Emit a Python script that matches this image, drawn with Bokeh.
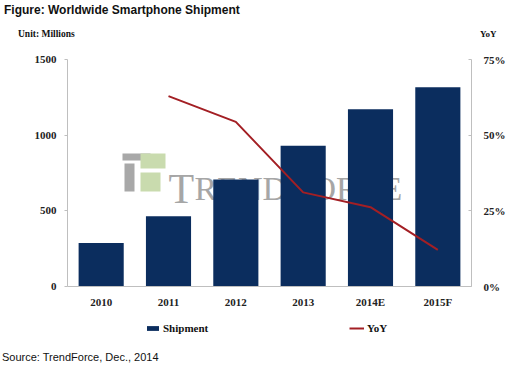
from bokeh.plotting import figure
from bokeh.layouts import column
from bokeh.models import (Range1d, FactorRange, LinearAxis, FixedTicker, PrintfTickFormatter,
                          Label, Legend, LegendItem, BoxAnnotation, ColumnDataSource, Div)
from bokeh.embed import file_html
from bokeh.resources import INLINE

years = ["2010", "2011", "2012", "2013", "2014E", "2015F"]
shipment = [288, 465, 707, 930, 1172, 1316]
yoy_years = ["2011", "2012", "2013", "2014E", "2015F"]
yoy = [62.9, 54.4, 31.1, 26.2, 12.1]
left_ticks = [0, 500, 1000, 1500]
right_ticks = [0, 25, 50, 75]

title_text = "Figure: Worldwide Smartphone Shipment"
left_unit = "Unit: Millions"
right_unit = "YoY"
source_text = "Source: TrendForce, Dec., 2014"

NAVY = "#0B2D5E"
RED = "#A31F24"
GRAY = "#BFBFBF"
SERIF = "Liberation Serif"
SANS = "Liberation Sans"
W = 511


def span(text, left, top, font, size, weight="normal"):
    return (f'<span style="position:absolute;left:{left}px;top:{top}px;white-space:nowrap;'
            f"font-family:'{font}';font-size:{size}px;font-weight:{weight};color:#111111;"
            f'line-height:normal">{text}</span>')


def strip(h, spans):
    html = (f'<div style="position:relative;width:{W}px;height:{h}px;margin:0;padding:0">'
            + "".join(spans) + "</div>")
    return Div(text=html, width=W, height=h, margin=0)


top = strip(51, [span(title_text, 4, 3, SANS, 12, "bold"),
                 span(left_unit, 18, 29, SERIF, 9.5, "bold"),
                 span(right_unit, 480, 29, SERIF, 9, "bold")])

# ---- main chart
p = figure(width=W, height=259, x_range=FactorRange(*years, range_padding=0),
           y_range=Range1d(0, 1500), output_backend="svg", toolbar_location=None,
           min_border_left=67, min_border_right=40, min_border_top=8, min_border_bottom=22)
p.extra_y_ranges = {"yoy": Range1d(0, 75)}
p.outline_line_color = None
p.xgrid.grid_line_color = None
p.ygrid.grid_line_color = None

src = ColumnDataSource(dict(x=years, y=shipment))
bars = p.vbar(x="x", top="y", width=0.67, source=src, fill_color=NAVY, line_color=None)
ysrc = ColumnDataSource(dict(x=yoy_years, y=yoy))
line = p.line(x="x", y="y", source=ysrc, y_range_name="yoy", line_color=RED, line_width=2)

xa = p.xaxis[0]
xa.axis_line_color = GRAY
xa.major_tick_line_color = None
xa.minor_tick_line_color = None
xa.major_label_standoff = 3

ya = p.yaxis[0]
ya.ticker = FixedTicker(ticks=left_ticks)
ya.major_tick_out = 3
ya.major_tick_in = 0
ya.major_label_standoff = 8

ra = LinearAxis(y_range_name="yoy", ticker=FixedTicker(ticks=right_ticks),
                formatter=PrintfTickFormatter(format="%d%%"))
ra.major_tick_in = 3
ra.major_tick_out = 0
ra.major_label_standoff = 12
p.add_layout(ra, "right")

for ax in (ya, ra):
    ax.axis_line_color = GRAY
    ax.major_tick_line_color = GRAY
    ax.minor_tick_line_color = None
for ax in (xa, ya, ra):
    ax.major_label_text_font = SERIF
    ax.major_label_text_font_style = "bold"
    ax.major_label_text_font_size = "11px"
    ax.major_label_text_color = "#222222"

# TrendForce watermark behind the bars (screen units from the frame's bottom-left)
for l, r, t, b, c in [(122, 150, 155, 162, "#A8A8A8"), (124, 134, 165, 193, "#A8A8A8"),
                      (140, 165, 155, 170, "#C9DBAE"), (140, 160, 174, 193, "#C9DBAE")]:
    p.add_layout(BoxAnnotation(left=l - 67, right=r - 67, top=288 - t, bottom=288 - b,
                               left_units="screen", right_units="screen",
                               top_units="screen", bottom_units="screen",
                               fill_color=c, fill_alpha=1, line_color=None, level="underlay"))
for txt, x, size in [("T", 168, "42px"), ("REND", 194, "34px"), ("F", 288, "42px"), ("ORCE", 311, "34px")]:
    p.add_layout(Label(x=x - 67, y=288 - 190, x_units="screen", y_units="screen", text=txt,
                       text_font=SERIF, text_font_size=size, text_color="#A6A6A6",
                       text_baseline="alphabetic", level="underlay"))

# ---- legend strip (proxy glyphs of zero size, so nothing is drawn in the strip)
leg = figure(width=W, height=35, x_range=Range1d(0, 1), y_range=Range1d(0, 1),
             output_backend="svg", toolbar_location=None, x_axis_type=None, y_axis_type=None,
             min_border_left=67, min_border_right=40, min_border_top=0, min_border_bottom=0)
leg.outline_line_color = None
leg.grid.visible = False
kb = leg.vbar(x=[0.5], top=[0], bottom=[0], width=0, fill_color=NAVY, line_color=None)
kl = leg.line(x=[0.5], y=[0.5], line_color=RED, line_width=2)
common = dict(border_line_color=None, background_fill_alpha=0, padding=0, margin=0,
              label_text_font=SERIF, label_text_font_style="bold", label_text_font_size="11px",
              label_text_color="#111111", glyph_width=15, glyph_height=6, label_height=6,
              label_standoff=3, spacing=0)
leg.add_layout(Legend(items=[LegendItem(label="Shipment", renderers=[kb])],
                      location=(145 - 67, 11), **common), "center")
leg.add_layout(Legend(items=[LegendItem(label="YoY", renderers=[kl])],
                      location=(349 - 67, 11), **common), "center")

bot = strip(27, [span(source_text, 2, 6, SANS, 11)])

layout = column(top, p, leg, bot, spacing=0)
open("out.html", "w").write(file_html(layout, INLINE))
